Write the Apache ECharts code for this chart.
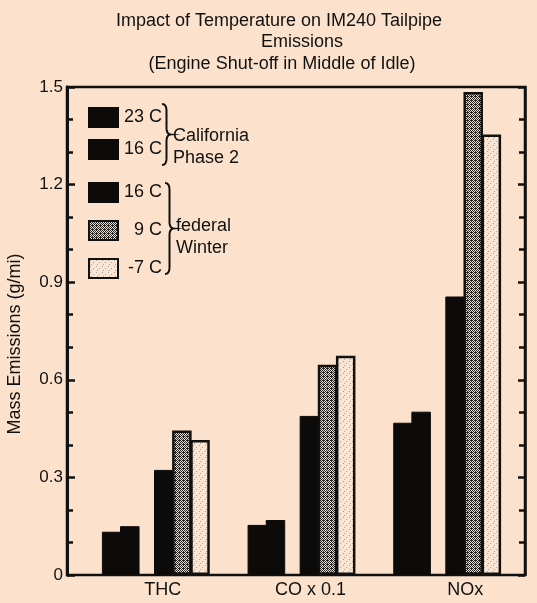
<!DOCTYPE html>
<html>
<head>
<meta charset="utf-8">
<script src="https://cdn.jsdelivr.net/npm/echarts@6/dist/echarts.min.js"></script>
<style>
  html, body { margin: 0; padding: 0; background: #fce2cd; }
  #chart { width: 537px; height: 603px; }
</style>
</head>
<body>
<div id="chart"></div>
<script>
// Emission categories (CO is shown scaled by 0.1)
const categories = ['THC', 'CO x 0.1', 'NOx'];

// Mass emissions, g/mi
const california23C = [0.133, 0.154, 0.468];
const california16C = [0.150, 0.169, 0.502];
const federal16C = [0.323, 0.489, 0.856];
const federal9C = [0.444, 0.646, 1.485];
const federalMinus7C = [0.415, 0.674, 1.354];

// Value-axis ticks
const yTickValues = [0, 0.3, 0.6, 0.9, 1.2, 1.5];

// Legend labels, keyed by series name
const seriesLabels = {
  'California 23 C': '23 C',
  'California 16 C': '16 C',
  'federal 16 C': '16 C',
  'federal 9 C': '9 C',
  'federal -7 C': '-7 C'
};

const FONT = '"Liberation Sans", Arial, Helvetica, sans-serif';
const INK = '#111';
const SOLID = '#0d0b0a';
const BG = '#fce2cd';

// Stippled fills for the two lighter bars
function makePattern(draw, size) {
  const c = document.createElement('canvas');
  c.width = size; c.height = size;
  const ctx = c.getContext('2d');
  draw(ctx, size);
  return { image: c, repeat: 'repeat' };
}
const darkStipple = makePattern((ctx, n) => {
  ctx.fillStyle = '#ecd9ca';
  ctx.fillRect(0, 0, n, n);
  ctx.fillStyle = '#2b2521';
  for (let y = 0; y < n; y++) {
    for (let x = 0; x < n; x++) {
      if ((x + y) % 2 === 0 || (x === 3 && y === 0)) ctx.fillRect(x, y, 1, 1);
    }
  }
}, 4);
const lightStipple = makePattern((ctx, n) => {
  ctx.fillStyle = '#fae4d3';
  ctx.fillRect(0, 0, n, n);
  ctx.fillStyle = '#b3a394';
  ctx.fillRect(1, 1, 1, 1);
  ctx.fillRect(4, 3, 1, 1);
  ctx.fillRect(2, 5, 1, 1);
}, 6);

const yMin = yTickValues[0];
const yMax = yTickValues[yTickValues.length - 1];
const yStep = yTickValues[1] - yTickValues[0];

// Bars in a group touch each other; a slight overlap hides antialiasing seams
const BAR_GAP = '-7%';

function bar(name, data, color, borderColor, borderWidth) {
  return {
    type: 'bar', name, data,
    xAxisIndex: 1, yAxisIndex: 2,
    barWidth: 19.5, barGap: BAR_GAP,
    silent: true,
    itemStyle: { color, borderColor, borderWidth },
    emphasis: { disabled: true }
  };
}

// Empty slot separating the California pair from the federal trio
const separator = {
  type: 'bar', name: 'separator', data: categories.map(() => '-'),
  xAxisIndex: 1, yAxisIndex: 2, barWidth: 17, barGap: BAR_GAP, silent: true
};

// Curly brace from (x, y1) to (x, y2) with its point at (x + w, mid), as polyline points
function bracePoints(x, y1, y2, w) {
  const ym = (y1 + y2) / 2, h = x + w / 2, r = 7;
  const pts = [];
  const quad = (p0, p1, p2) => {
    for (let i = 0; i <= 8; i++) {
      const t = i / 8, u = 1 - t;
      pts.push([u * u * p0[0] + 2 * u * t * p1[0] + t * t * p2[0],
                u * u * p0[1] + 2 * u * t * p1[1] + t * t * p2[1]]);
    }
  };
  quad([x, y1], [h, y1], [h, y1 + r]);
  quad([h, ym - r], [h, ym], [x + w, ym]);
  quad([x + w, ym], [h, ym], [h, ym + r]);
  quad([h, y2 - r], [h, y2], [x, y2]);
  return pts;
}

function text(str, x, y, opts) {
  return Object.assign({
    type: 'text', x, y, silent: true,
    style: Object.assign({ text: str, font: `18px ${FONT}`, fill: INK,
      align: 'left', verticalAlign: 'middle' }, (opts && opts.style) || {})
  }, opts && opts.extra);
}

const axisLabelRich = {
  a: { fontSize: 18, fontFamily: FONT, color: INK, padding: [0, 0, 0, 14] },
  b: { fontSize: 18, fontFamily: FONT, color: INK, padding: [0, 0, 0, 18] },
  c: { fontSize: 18, fontFamily: FONT, color: INK, padding: [0, 0, 0, 36] }
};
const labelStyleKey = ['a', 'b', 'c'];

function legend(names, top, gap) {
  return {
    data: names, orient: 'vertical', left: 88, top, padding: 0,
    itemWidth: 29, itemHeight: 19, itemGap: gap,
    selectedMode: false, icon: 'rect',
    formatter: name => `{t|${seriesLabels[name]}}`,
    textStyle: { rich: { t: { width: 39, align: 'right', fontSize: 18, fontFamily: FONT, color: INK } } }
  };
}

const chart = echarts.init(document.getElementById('chart'), null, { renderer: 'canvas' });

chart.setOption({
  backgroundColor: BG,
  animation: false,
  grid: [
    { left: 67, right: 12, top: 87, bottom: 28, show: true, borderColor: INK, borderWidth: 2.5, backgroundColor: 'transparent' },
    { left: 83, right: 17, top: 87, bottom: 28 }
  ],
  xAxis: [
    { gridIndex: 0, type: 'category', data: categories, show: false },
    {
      gridIndex: 1, type: 'category', data: categories,
      axisLine: { show: false }, axisTick: { show: false },
      axisLabel: {
        margin: 6,
        formatter: (v, i) => `{${labelStyleKey[i]}|${v}}`,
        rich: axisLabelRich
      }
    }
  ],
  yAxis: [
    {
      gridIndex: 0, type: 'value', position: 'left',
      min: yMin, max: yMax, interval: yStep,
      axisLine: { show: true, lineStyle: { color: INK, width: 3 } },
      axisTick: { show: true, inside: true, length: 8, lineStyle: { color: INK, width: 2.5 } },
      minorTick: { show: true, splitNumber: 3, length: 6, lineStyle: { color: INK, width: 2.5 } },
      splitLine: { show: false },
      axisLabel: { margin: 4, fontSize: 17, fontFamily: FONT, color: INK,
        formatter: v => (v === 0 ? '0' : v.toFixed(1)) }
    },
    {
      gridIndex: 0, type: 'value', position: 'right',
      min: yMin, max: yMax, interval: yStep,
      axisLine: { show: true, lineStyle: { color: INK, width: 2.5 } },
      axisTick: { show: true, inside: true, length: 7, lineStyle: { color: INK, width: 2.5 } },
      minorTick: { show: true, splitNumber: 3, length: 6, lineStyle: { color: INK, width: 2.5 } },
      splitLine: { show: false },
      axisLabel: { show: false }
    },
    { gridIndex: 1, type: 'value', min: yMin, max: yMax, show: false, splitLine: { show: false } }
  ],
  legend: [
    legend(['California 23 C', 'California 16 C'], 107, 11),
    legend(['federal 16 C', 'federal 9 C', 'federal -7 C'], 182, 17)
  ],
  series: [
    bar('California 23 C', california23C, SOLID, SOLID, 1),
    bar('California 16 C', california16C, SOLID, SOLID, 1),
    separator,
    bar('federal 16 C', federal16C, SOLID, SOLID, 1),
    bar('federal 9 C', federal9C, darkStipple, INK, 2.5),
    bar('federal -7 C', federalMinus7C, lightStipple, INK, 2.5)
  ],
  graphic: [
    text('Impact of Temperature on IM240 Tailpipe', 279, 21, { style: { align: 'center' } }),
    text('Emissions', 302, 42, { style: { align: 'center' } }),
    text('(Engine Shut-off in Middle of Idle)', 282, 64, { style: { align: 'center' } }),
    text('Mass Emissions (g/mi)', 15, 344, { style: { align: 'center' }, extra: { rotation: Math.PI / 2 } }),
    { type: 'polyline', silent: true, shape: { points: bracePoints(162, 104, 165, 9) },
      style: { fill: null, stroke: INK, lineWidth: 2 } },
    { type: 'polyline', silent: true, shape: { points: bracePoints(165, 183, 274, 9) },
      style: { fill: null, stroke: INK, lineWidth: 2 } },
    text('California', 173, 136),
    text('Phase 2', 173, 158),
    text('federal', 176, 226),
    text('Winter', 176, 248)
  ]
});
</script>
</body>
</html>
